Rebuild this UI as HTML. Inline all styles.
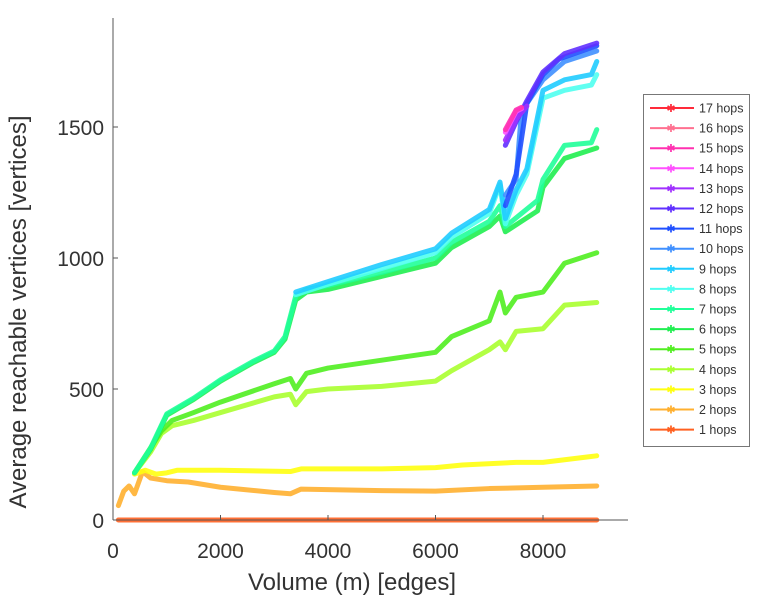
<!DOCTYPE html>
<html><head><meta charset="utf-8"><style>
body{margin:0;background:#fff;}
svg text{font-family:"Liberation Sans",sans-serif;fill:#333;}
</style></head><body>
<svg id="chart" width="766" height="600" xmlns="http://www.w3.org/2000/svg">
<g id="plot"></g>
<g id="axes"></g>
<g id="legend"></g>
</svg>
<script>
const xTicks=[0,2000,4000,6000,8000];
const yTicks=[0,500,1000,1500];
const seriesNames=["17 hops","16 hops","15 hops","14 hops","13 hops","12 hops","11 hops","10 hops","9 hops","8 hops","7 hops","6 hops","5 hops","4 hops","3 hops","2 hops","1 hops"];
const seriesColors=["#ff2a3a","#ff7090","#ff30b0","#ff50ff","#a030ff","#6030ff","#2050ff","#4090ff","#20ccff","#50fff0","#20ff99","#20ee50","#50ee20","#aaff30","#ffff10","#ffb030","#ff6020"];
const s1=[[100,0],[9000,0]];
const s2=[[100,55],[200,110],[300,130],[400,100],[550,185],[700,160],[1000,150],[1400,145],[2000,125],[3000,105],[3300,100],[3500,118],[5000,112],[6000,110],[7000,120],[8000,125],[9000,130]];
const s3=[[400,175],[600,190],[800,175],[1000,180],[1200,190],[2000,190],[3300,185],[3500,195],[5000,195],[6000,200],[6500,210],[7500,220],[8000,220],[8800,240],[9000,245]];
const s4=[[400,180],[700,260],[900,330],[1100,360],[1500,380],[2000,410],[3000,470],[3300,480],[3400,440],[3600,490],[4000,500],[5000,510],[6000,530],[6300,570],[7000,650],[7200,680],[7300,650],[7500,720],[8000,730],[8400,820],[9000,830]];
const s5=[[400,180],[900,340],[1100,380],[1500,410],[2000,450],[3000,520],[3300,540],[3400,500],[3600,560],[4000,580],[5000,610],[6000,640],[6300,700],[7000,760],[7200,870],[7300,790],[7500,850],[8000,870],[8400,980],[9000,1020]];
const s6=[[400,180],[700,270],[1000,400],[1500,460],[2000,530],[2600,600],[3000,640],[3200,690],[3400,840],[3600,870],[4000,880],[5000,930],[6000,980],[6300,1040],[7000,1120],[7200,1160],[7300,1100],[7600,1140],[7900,1180],[8000,1270],[8400,1380],[9000,1420]];
const s7=[[400,180],[700,275],[1000,405],[1500,465],[2000,535],[2600,605],[3000,645],[3200,700],[3400,855],[3600,880],[4000,895],[5000,945],[6000,1000],[6300,1060],[7000,1140],[7200,1200],[7300,1120],[7600,1170],[7900,1220],[8000,1300],[8400,1430],[8900,1440],[9000,1490]];
const s8=[[3400,860],[4000,900],[5000,960],[6000,1020],[6300,1080],[7000,1170],[7200,1280],[7300,1130],[7500,1240],[7700,1320],[8000,1610],[8400,1640],[8900,1660],[9000,1700]];
const s9=[[3400,870],[4000,910],[5000,975],[6000,1035],[6300,1095],[7000,1185],[7200,1290],[7300,1150],[7500,1260],[7700,1340],[8000,1640],[8400,1680],[8900,1700],[9000,1750]];
const s10=[[7300,1240],[7500,1300],[7600,1560],[8000,1680],[8400,1750],[9000,1790]];
const s11=[[7300,1200],[7500,1320],[7700,1590],[8000,1700],[8300,1760],[9000,1810]];
const s12=[[7300,1430],[7500,1520],[7700,1600],[8000,1710],[8400,1780],[9000,1820]];
const s13=[[7300,1450],[7500,1530],[7700,1580]];
const s14=[[7300,1480],[7500,1560],[7600,1570]];
const s15=[[7300,1490],[7500,1565],[7600,1575]];
const s16=[];
const s17=[];
const seriesData=[s17,s16,s15,s14,s13,s12,s11,s10,s9,s8,s7,s6,s5,s4,s3,s2,s1];
const NS="http://www.w3.org/2000/svg";
const X0=113,X1=628,Y0=520,YTOP=18;
function xs(v){return X0+v*107.5/2000;}
function ys(v){return Y0-v*131/500;}
function mk(tag,attrs,parent){const e=document.createElementNS(NS,tag);for(const k in attrs)e.setAttribute(k,attrs[k]);parent.appendChild(e);return e;}
const plot=document.getElementById('plot'),axes=document.getElementById('axes'),legend=document.getElementById('legend');
for(let i=seriesData.length-1;i>=0;i--){
  const d=seriesData[i];if(!d.length)continue;
  const p=mk('polyline',{points:d.map(q=>xs(q[0])+','+ys(q[1])).join(' '),fill:'none',stroke:seriesColors[i],'stroke-width':5,'stroke-linejoin':'round','stroke-linecap':'round','stroke-opacity':0.9},plot);
  
  
}
const ya=mk('line',{x1:X0,y1:YTOP,x2:X0,y2:Y0,stroke:'#555','stroke-width':1},axes);


const xa=mk('line',{x1:X0,y1:Y0,x2:X1,y2:Y0,stroke:'#555','stroke-width':1},axes);


xTicks.forEach(t=>{
  mk('line',{x1:xs(t),y1:Y0,x2:xs(t),y2:Y0-5,stroke:'#555'},axes);
  const tx=mk('text',{x:xs(t),y:558,'font-size':21,'text-anchor':'middle'},axes);tx.textContent=t;
  
  
});
yTicks.forEach(t=>{
  mk('line',{x1:X0,y1:ys(t),x2:X0+5,y2:ys(t),stroke:'#555'},axes);
  const tx=mk('text',{x:104,y:ys(t)+8,'font-size':21,'text-anchor':'end'},axes);tx.textContent=t;
  
  
});
const xt=mk('text',{x:352,y:590,'font-size':24,'text-anchor':'middle'},axes);xt.textContent='Volume (m) [edges]';


const yt=mk('text',{x:0,y:0,'font-size':24,'text-anchor':'middle',transform:'translate(26,312) rotate(-90)'},axes);yt.textContent='Average reachable vertices [vertices]';


const lb=mk('rect',{x:643.5,y:94.5,width:106,height:352,fill:'#fff',stroke:'#777','stroke-width':1},legend);


seriesNames.forEach((n,i)=>{
  const y=108+i*20.1;
  const g=mk('g',{},legend);
  
  
  mk('line',{x1:650,y1:y,x2:694,y2:y,stroke:seriesColors[i],'stroke-width':2},g);
  const m=mk('text',{x:671,y:y+4,'font-size':11,'text-anchor':'middle',style:'fill:'+seriesColors[i]},g);m.textContent='✱';
  const t=mk('text',{x:699,y:y+4.5,'font-size':12.5},g);t.textContent=n;
});
</script>
</body></html>
